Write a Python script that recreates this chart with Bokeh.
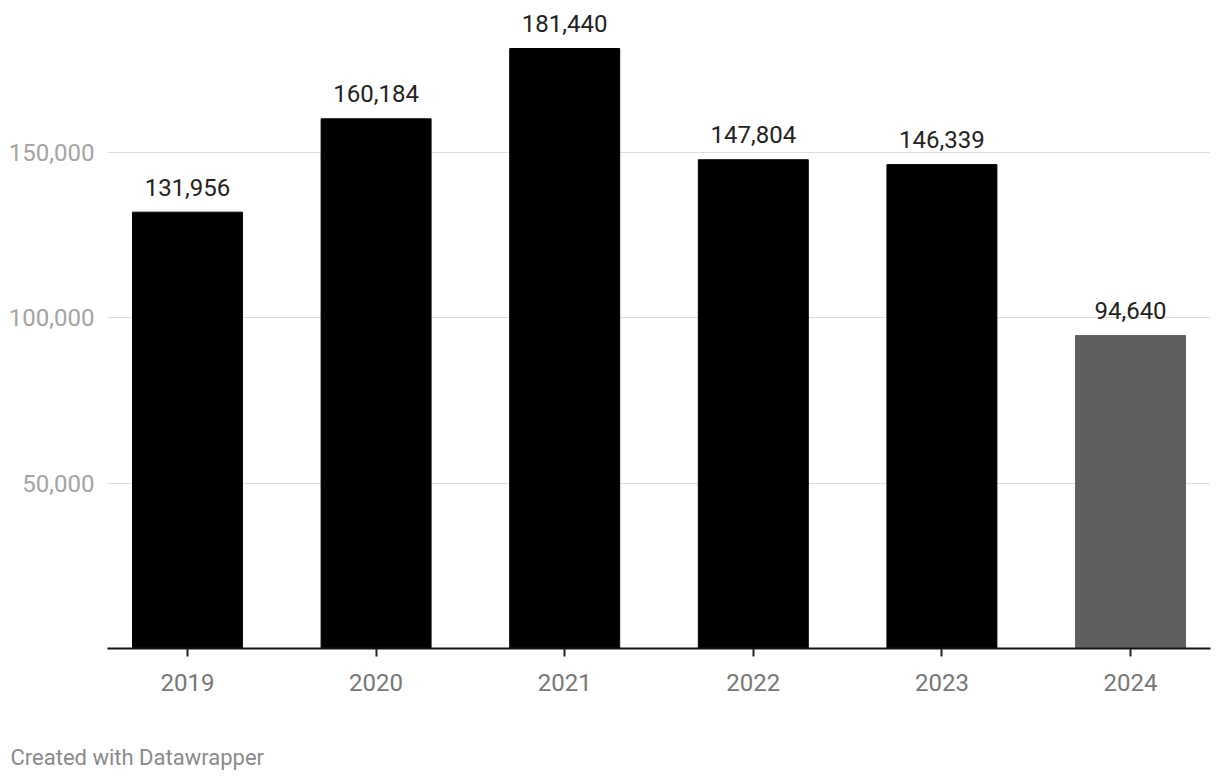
from bokeh.plotting import figure
from bokeh.models import ColumnDataSource, FixedTicker, NumeralTickFormatter, Range1d, Title
from bokeh.core.properties import value
from bokeh.embed import file_html
from bokeh.resources import INLINE

# ---- data ----
years = [2019, 2020, 2021, 2022, 2023, 2024]
counts = [131956, 160184, 181440, 147804, 146339, 94640]
bar_colors = ["#000000", "#000000", "#000000", "#000000", "#000000", "#5f5f5f"]
y_ticks = [50000, 100000, 150000]
footer_text = "Created with Datawrapper"

labels = [f"{v:,}" for v in counts]
src = ColumnDataSource(dict(x=years, top=counts, color=bar_colors, label=labels))

FONT = "Roboto"

p = figure(
    width=1212, height=772,
    output_backend="svg", toolbar_location=None,
    x_range=Range1d(2018.576, 2024.424),
    y_range=Range1d(0, 192944),
    min_border_left=107, min_border_right=2, min_border_top=10, min_border_bottom=124,
    background_fill_color="white", border_fill_color="white",
)
p.outline_line_color = None

p.vbar(x="x", top="top", bottom=0, width=0.583, color="color", source=src)

p.text(x="x", y="top", text="label", source=src,
       text_align="center", text_baseline="alphabetic", y_offset=-25,
       text_font=value(FONT), text_font_size="24px", text_color="#222222")

# y axis
p.yaxis.ticker = FixedTicker(ticks=y_ticks)
p.yaxis.formatter = NumeralTickFormatter(format="0,0")
p.yaxis.axis_line_color = None
p.yaxis.major_tick_line_color = None
p.yaxis.minor_tick_line_color = None
p.yaxis.major_label_standoff = 7
p.yaxis.major_label_text_font = FONT
p.yaxis.major_label_text_font_size = "24px"
p.yaxis.major_label_text_color = "#a3a3a3"

p.ygrid.ticker = FixedTicker(ticks=y_ticks)
p.ygrid.grid_line_color = "#dedede"
p.ygrid.grid_line_width = 1
p.xgrid.grid_line_color = None

# x axis
p.xaxis.ticker = FixedTicker(ticks=years)
p.xaxis.axis_line_color = "#111111"
p.xaxis.axis_line_width = 2
p.xaxis.major_tick_in = 0
p.xaxis.major_tick_out = 8
p.xaxis.major_tick_line_color = "#222222"
p.xaxis.major_tick_line_width = 2
p.xaxis.minor_tick_line_color = None
p.xaxis.major_label_standoff = 17
p.xaxis.major_label_text_font = FONT
p.xaxis.major_label_text_font_size = "24px"
p.xaxis.major_label_text_color = "#777777"

spacer = Title(text=" ", align="left", standoff=22,
               text_font=FONT, text_font_size="22px", text_color="#ffffff")
p.add_layout(spacer, "below")

footer = Title(text=footer_text, align="left", offset=-97, standoff=0,
               text_font=FONT, text_font_size="22px", text_font_style="normal",
               text_color="#8a8a8a")
p.add_layout(footer, "below")

open("out.html", "w").write(file_html(p, INLINE))
